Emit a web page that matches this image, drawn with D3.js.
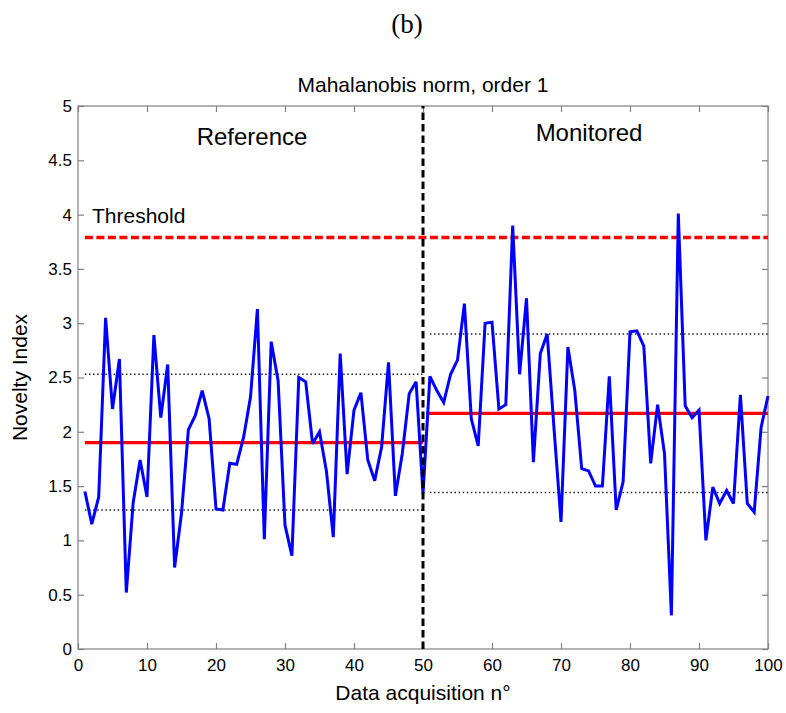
<!DOCTYPE html>
<html>
<head>
<meta charset="utf-8">
<script src="https://cdn.jsdelivr.net/npm/d3@7"></script>
<style>
  html, body { margin: 0; padding: 0; background: #fff; }
  svg { display: block; }
  text { font-family: Arial, "Liberation Sans", sans-serif; fill: #000; }
</style>
</head>
<body>
<svg id="chart" width="786" height="713"></svg>
<script>
// ---- data ----
const acquisitions = d3.range(1, 101);
const noveltyIndex = [
  1.45, 1.15, 1.40, 3.05, 2.21, 2.67, 0.52, 1.35, 1.74, 1.40,
  2.89, 2.13, 2.62, 0.75, 1.25, 2.02, 2.15, 2.38, 2.12, 1.29,
  1.28, 1.71, 1.70, 1.95, 2.32, 3.13, 1.01, 2.83, 2.47, 1.14,
  0.86, 2.50, 2.46, 1.89, 2.00, 1.64, 1.03, 2.72, 1.61, 2.20,
  2.36, 1.74, 1.55, 1.86, 2.64, 1.41, 1.80, 2.35, 2.46, 1.43,
  2.51, 2.38, 2.27, 2.53, 2.66, 3.18, 2.12, 1.87, 3.00, 3.01,
  2.21, 2.25, 3.90, 2.53, 3.23, 1.72, 2.72, 2.90, 2.02, 1.17,
  2.78, 2.38, 1.66, 1.64, 1.50, 1.50, 2.51, 1.28, 1.54, 2.92,
  2.93, 2.79, 1.71, 2.25, 1.80, 0.31, 4.01, 2.24, 2.13, 2.20,
  1.00, 1.49, 1.34, 1.46, 1.34, 2.34, 1.34, 1.26, 2.04, 2.33
];
const phaseNames = ["Reference", "Monitored"];
const phaseRanges = [[1, 50], [51, 100]];
const phaseMeans = [1.90, 2.17];
const phaseUpper = [2.53, 2.90];
const phaseLower = [1.28, 1.44];
const thresholdValue = 3.79;
const thresholdRange = [1, 100];
const splitAt = 50;
const xTicks = d3.range(0, 101, 10);
const yTicks = [0, 0.5, 1, 1.5, 2, 2.5, 3, 3.5, 4, 4.5, 5];

// ---- layout ----
const svg = d3.select("#chart");
const m = { left: 78, right: 18, top: 106, bottom: 64 };
const W = 786, H = 713;
const x = d3.scaleLinear().domain([0, 100]).range([m.left, W - m.right]);
const y = d3.scaleLinear().domain([0, 5]).range([H - m.bottom, m.top]);
const axisColor = "#808080";

// box
svg.append("rect")
  .attr("x", x(0)).attr("y", y(5))
  .attr("width", x(100) - x(0)).attr("height", y(0) - y(5))
  .attr("fill", "none").attr("stroke", axisColor).attr("stroke-width", 1.2);

function styleAxis(g) {
  g.select(".domain").remove();
  g.selectAll(".tick line").attr("stroke", axisColor).attr("stroke-width", 1.2);
  g.selectAll(".tick text").style("font-size", "17px").attr("fill", "#000")
    .style("font-family", "Arial, 'Liberation Sans', sans-serif");
}
const tickLen = 6;
svg.append("g").attr("transform", `translate(0,${y(0)})`)
  .call(d3.axisBottom(x).tickValues(xTicks).tickSize(-tickLen).tickPadding(10).tickFormat(d3.format("d")))
  .call(styleAxis);
svg.append("g").attr("transform", `translate(0,${y(5)})`)
  .call(d3.axisTop(x).tickValues(xTicks).tickSize(-tickLen).tickFormat(""))
  .call(styleAxis);
svg.append("g").attr("transform", `translate(${x(0)},0)`)
  .call(d3.axisLeft(y).tickValues(yTicks).tickSize(-tickLen).tickPadding(6).tickFormat(d => String(d)))
  .call(styleAxis);
svg.append("g").attr("transform", `translate(${x(100)},0)`)
  .call(d3.axisRight(y).tickValues(yTicks).tickSize(-tickLen).tickFormat(""))
  .call(styleAxis);

// dotted bounds
phaseRanges.forEach((r, i) => {
  [phaseUpper[i], phaseLower[i]].forEach(v => {
    svg.append("line")
      .attr("x1", x(r[0])).attr("x2", x(r[1]))
      .attr("y1", y(v)).attr("y2", y(v))
      .attr("stroke", "#222").attr("stroke-width", 1.5)
      .attr("stroke-dasharray", "1.5,2.6");
  });
});

// means
phaseRanges.forEach((r, i) => {
  svg.append("line")
    .attr("x1", x(i === 0 ? r[0] : r[0] - 0.5)).attr("x2", x(r[1]))
    .attr("y1", y(phaseMeans[i])).attr("y2", y(phaseMeans[i]))
    .attr("stroke", "#ff0000").attr("stroke-width", 3.2);
});

// threshold
svg.append("line")
  .attr("x1", x(thresholdRange[0])).attr("x2", x(thresholdRange[1]))
  .attr("y1", y(thresholdValue)).attr("y2", y(thresholdValue))
  .attr("stroke", "#ff0000").attr("stroke-width", 3.5)
  .attr("stroke-dasharray", "8,3.5");

// novelty index line
const line = d3.line().x((d, i) => x(acquisitions[i])).y(d => y(d));
svg.append("path").datum(noveltyIndex)
  .attr("d", line)
  .attr("fill", "none").attr("stroke", "#0000ff").attr("stroke-width", 3)
  .attr("stroke-linejoin", "miter").attr("stroke-miterlimit", 3);

// split line
svg.append("line")
  .attr("x1", x(splitAt)).attr("x2", x(splitAt))
  .attr("y1", y(0)).attr("y2", y(5))
  .attr("stroke", "#000").attr("stroke-width", 3)
  .attr("stroke-dasharray", "7.5,4");

// texts
svg.append("text").attr("x", 407).attr("y", 33)
  .attr("text-anchor", "middle")
  .style("font-family", "'Liberation Serif', 'Times New Roman', serif")
  .style("font-size", "27px").text("(b)");
svg.append("text").attr("x", 423).attr("y", 92)
  .attr("text-anchor", "middle").style("font-size", "21px")
  .text("Mahalanobis norm, order 1");
svg.append("text").attr("x", 252).attr("y", 145)
  .attr("text-anchor", "middle").style("font-size", "24px").text(phaseNames[0]);
svg.append("text").attr("x", 589).attr("y", 141)
  .attr("text-anchor", "middle").style("font-size", "24px").text(phaseNames[1]);
svg.append("text").attr("x", 92).attr("y", 223)
  .style("font-size", "21px").text("Threshold");
svg.append("text")
  .attr("transform", `translate(27,${(y(0) + y(5)) / 2}) rotate(-90)`)
  .attr("text-anchor", "middle").style("font-size", "21px").text("Novelty Index");
svg.append("text").attr("x", 423).attr("y", 700)
  .attr("text-anchor", "middle").style("font-size", "21px").text("Data acquisition n°");
</script>
</body>
</html>
